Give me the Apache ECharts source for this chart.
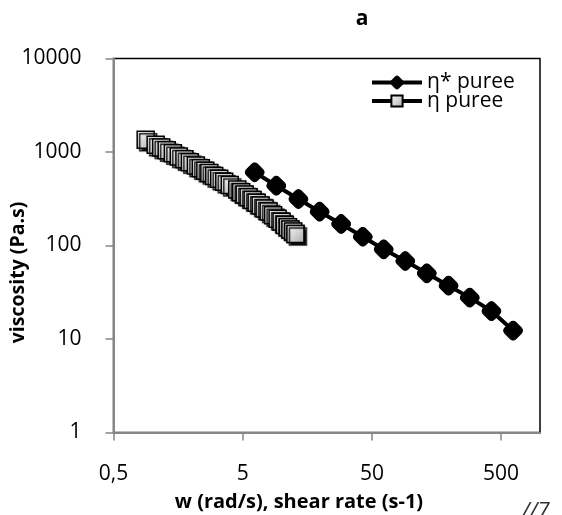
<!DOCTYPE html>
<html>
<head>
<meta charset="utf-8">
<script src="https://cdn.jsdelivr.net/npm/echarts@6/dist/echarts.min.js"></script>
<style>
html,body{margin:0;padding:0;background:#fff;}
#chart{width:562px;height:515px;}
</style>
</head>
<body>
<div id="chart"></div>
<script>
// Data
const etaStarName = 'η* puree';
const etaStarX = [6.19, 9.1, 13.5, 19.7, 28.9, 42.5, 61.7, 90.7, 133, 196, 286, 421, 619];
const etaStarY = [607, 436, 314, 230, 170, 124, 91, 68.3, 50.4, 37.2, 27.7, 19.9, 12.3];

const etaName = 'η puree';
const etaX = [0.887, 1.06, 1.17, 1.29, 1.44, 1.60, 1.77, 1.95, 2.17, 2.37, 2.57, 2.76, 3.01, 3.29, 3.60, 3.97,
  4.54, 4.87, 5.18, 5.56, 5.97, 6.41, 6.89, 7.39, 7.94, 8.60, 9.32, 10.0, 10.6, 11.2, 11.7, 12.3, 12.8];
const etaY = [1354, 1197, 1119, 1045, 968, 897, 836, 776, 715, 669, 630, 595, 555, 517, 481, 444,
  396, 372, 351, 329, 307, 287, 267, 248, 231, 211, 193, 179, 166, 157, 148, 141, 133];

const xTicks = [0.5, 5, 50, 500];
const xTickLabels = ['0,5', '5', '50', '500'];
const yTicks = [1, 10, 100, 1000, 10000];
const yTickLabels = ['1', '10', '100', '1000', '10000'];

const titleText = 'a';
const xAxisName = 'w (rad/s), shear rate (s-1)';
const yAxisName = 'viscosity (Pa.s)';

const FONT = '"Open Sans", "Liberation Sans", sans-serif';

function zip(xs, ys) { return xs.map((x, i) => [x, ys[i]]); }
function lookup(ticks, labels, v) {
  const i = ticks.findIndex(t => Math.abs(Math.log10(t) - Math.log10(v)) < 1e-6);
  return i >= 0 ? labels[i] : '';
}

const chart = echarts.init(document.getElementById('chart'), null, {renderer: 'canvas'});
chart.setOption({
  animation: false,
  backgroundColor: '#fff',
  grid: {
    left: 113.5, right: 22, top: 58.5, bottom: 82.5,
    show: true, borderColor: '#000', borderWidth: 1.5,
    outerBoundsMode: 'none'
  },
  legend: {
    orient: 'vertical',
    left: 365, top: 67,
    itemWidth: 50, itemHeight: 14, itemGap: -2.5,
    lineStyle: {width: 4, color: '#000'},
    textStyle: {fontFamily: FONT, fontSize: 21, color: '#000'},
    data: [etaStarName, etaName]
  },
  xAxis: {
    type: 'log', logBase: 10, min: 0.5, max: 1000,
    axisLine: {show: true, lineStyle: {color: '#868686', width: 2}},
    axisTick: {show: true, length: 8, customValues: xTicks, lineStyle: {color: '#868686', width: 1.5}},
    axisLabel: {customValues: xTicks, margin: 31, fontFamily: FONT, fontSize: 21, color: '#000',
      formatter: v => lookup(xTicks, xTickLabels, v)},
    splitLine: {show: false},
    minorTick: {show: false}
  },
  yAxis: {
    type: 'log', logBase: 10, min: 1, max: 10000,
    axisLine: {show: true, lineStyle: {color: '#868686', width: 2}},
    axisTick: {show: true, length: 8, customValues: yTicks, lineStyle: {color: '#868686', width: 1.5}},
    axisLabel: {customValues: yTicks, margin: 32, fontFamily: FONT, fontSize: 21, color: '#000',
      formatter: v => lookup(yTicks, yTickLabels, v)},
    splitLine: {show: false}
  },
  series: [
    {
      name: etaStarName, type: 'line', data: zip(etaStarX, etaStarY),
      symbol: 'roundRect', symbolRotate: 45, symbolSize: 15.5,
      itemStyle: {color: '#000', borderColor: '#000'},
      lineStyle: {color: '#000', width: 4},
      z: 2
    },
    {
      name: etaName, type: 'line', data: zip(etaX, etaY),
      symbol: 'rect', symbolSize: 17,
      itemStyle: {
        color: new echarts.graphic.LinearGradient(0, 0, 1, 1, [
          {offset: 0, color: '#ffffff'}, {offset: 1, color: '#a9a9a9'}
        ]),
        borderColor: '#000', borderWidth: 1.5,
        shadowColor: 'rgba(0,0,0,0.9)', shadowBlur: 1, shadowOffsetX: 2.5, shadowOffsetY: 2.5
      },
      lineStyle: {color: '#000', width: 4},
      z: 3
    }
  ],
  graphic: [
    {type: 'text', x: 362, y: 19, style: {text: titleText, font: 'bold 21px ' + FONT, fill: '#000', textAlign: 'center', textVerticalAlign: 'middle'}},
    {type: 'text', x: 299, y: 502, style: {text: xAxisName, font: 'bold 20px ' + FONT, fill: '#000', textAlign: 'center', textVerticalAlign: 'middle'}},
    {type: 'text', x: 18, y: 272.5, rotation: Math.PI / 2, style: {text: yAxisName, font: 'bold 19.5px ' + FONT, fill: '#000', textAlign: 'center', textVerticalAlign: 'middle'}},
    {type: 'text', x: 522, y: 501, style: {text: '//7', font: 'italic 22px ' + FONT, fill: '#333', textAlign: 'left', textVerticalAlign: 'top'}}
  ]
});
</script>
</body>
</html>
